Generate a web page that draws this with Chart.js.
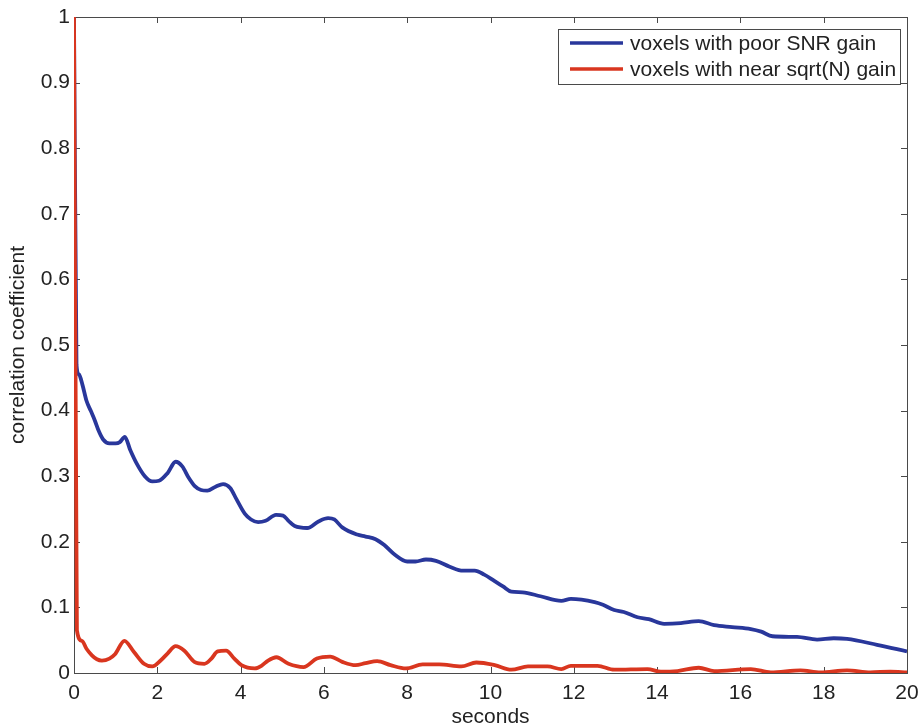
<!DOCTYPE html>
<html lang="en">
<head>
    <meta charset="UTF-8">
    <title>Correlation coefficient vs seconds</title>
    <script src="https://cdn.jsdelivr.net/npm/chart.js"></script>
    <style>
        body {
            margin: 0;
            padding: 0;
            background: #fff;
        }
        #wrap {
            width: 920px;
            height: 726px;
        }
    </style>
</head>
<body>
    <div id="wrap">
        <canvas id="corrChart" width="920" height="726"></canvas>
    </div>

    <script>
        // values
        const poorLabel = 'voxels with poor SNR gain';
        const poorT = [0, 0.06, 0.12, 0.2, 0.3, 0.4, 0.5, 0.6, 0.7, 0.85, 1.0, 1.1, 1.22, 1.35, 1.5, 1.7, 1.88, 2.04, 2.25, 2.44, 2.6, 2.75, 2.9, 3.05, 3.2, 3.4, 3.58, 3.75, 3.9, 4.1, 4.25, 4.42, 4.6, 4.85, 5.02, 5.15, 5.3, 5.6, 5.87, 6.1, 6.25, 6.44, 6.8, 7.0, 7.24, 7.45, 7.69, 8.0, 8.2, 8.45, 8.69, 9.02, 9.34, 9.62, 9.85, 10.1, 10.3, 10.5, 10.77, 11.2, 11.7, 11.93, 12.5, 12.7, 12.97, 13.2, 13.53, 13.8, 14.17, 14.57, 15.0, 15.37, 15.8, 16.25, 16.5, 16.77, 17.36, 17.84, 18.24, 18.56, 19.28, 20.0];
        const poorV = [1, 0.47, 0.455, 0.44, 0.415, 0.40, 0.385, 0.368, 0.356, 0.350, 0.350, 0.352, 0.360, 0.340, 0.320, 0.300, 0.292, 0.293, 0.305, 0.322, 0.315, 0.298, 0.285, 0.279, 0.278, 0.284, 0.288, 0.282, 0.265, 0.243, 0.234, 0.230, 0.232, 0.241, 0.240, 0.232, 0.224, 0.221, 0.231, 0.236, 0.234, 0.222, 0.211, 0.208, 0.204, 0.195, 0.181, 0.170, 0.170, 0.173, 0.171, 0.162, 0.156, 0.156, 0.150, 0.140, 0.132, 0.124, 0.123, 0.117, 0.110, 0.113, 0.108, 0.104, 0.096, 0.093, 0.085, 0.082, 0.075, 0.076, 0.079, 0.073, 0.070, 0.067, 0.063, 0.056, 0.055, 0.051, 0.053, 0.052, 0.043, 0.033];

        const nearLabel = 'voxels with near sqrt(N) gain';
        const nearT = [0, 0.07, 0.19, 0.3, 0.43, 0.55, 0.67, 0.85, 0.99, 1.21, 1.44, 1.68, 1.88, 2.08, 2.25, 2.44, 2.65, 2.89, 3.13, 3.3, 3.45, 3.65, 3.85, 4.02, 4.34, 4.5, 4.66, 4.86, 5.15, 5.51, 5.83, 6.15, 6.44, 6.76, 7.0, 7.28, 7.6, 7.97, 8.37, 8.77, 9.3, 9.66, 10.1, 10.5, 10.9, 11.37, 11.7, 11.93, 12.57, 12.97, 13.77, 14.09, 14.49, 15.0, 15.37, 16.25, 16.73, 17.44, 17.92, 18.56, 19.12, 19.6, 20.0];
        const nearV = [1, 0.065, 0.049, 0.037, 0.027, 0.021, 0.019, 0.022, 0.029, 0.049, 0.032, 0.014, 0.010, 0.019, 0.030, 0.041, 0.034, 0.017, 0.014, 0.022, 0.033, 0.034, 0.022, 0.012, 0.007, 0.011, 0.019, 0.024, 0.014, 0.009, 0.022, 0.025, 0.017, 0.012, 0.015, 0.018, 0.012, 0.007, 0.013, 0.013, 0.010, 0.016, 0.012, 0.005, 0.010, 0.010, 0.006, 0.011, 0.011, 0.005, 0.006, 0.002, 0.003, 0.008, 0.003, 0.006, 0.001, 0.004, 0.001, 0.004, 0.001, 0.002, 0.001];

        const xTicks = [0, 2, 4, 6, 8, 10, 12, 14, 16, 18, 20];
        const yTicks = [0, 0.1, 0.2, 0.3, 0.4, 0.5, 0.6, 0.7, 0.8, 0.9, 1];
        const yTickLabels = ['0', '0.1', '0.2', '0.3', '0.4', '0.5', '0.6', '0.7', '0.8', '0.9', '1'];

        const BLUE = '#29379b';
        const RED = '#d9361f';
        const AXIS = '#4a4a4a';
        const FONT = "'Liberation Sans', Arial, sans-serif";

        function toPoints(ts, vs) {
            return ts.map((t, i) => ({ x: t, y: vs[i] }));
        }

        // matlab style box with inward ticks + legend box in the corner
        const framePlugin = {
            id: 'frame',
            beforeDatasetsDraw(chart) {
                const { ctx, chartArea: a, scales } = chart;
                ctx.save();
                ctx.strokeStyle = AXIS;
                ctx.lineWidth = 1;
                ctx.strokeRect(a.left + 0.5, a.top + 0.5, a.right - a.left, a.bottom - a.top);
                ctx.beginPath();
                scales.x.ticks.forEach(t => {
                    const px = Math.round(scales.x.getPixelForValue(t.value)) + 0.5;
                    ctx.moveTo(px, a.bottom); ctx.lineTo(px, a.bottom - 6);
                    ctx.moveTo(px, a.top); ctx.lineTo(px, a.top + 6);
                });
                scales.y.ticks.forEach(t => {
                    const py = Math.round(scales.y.getPixelForValue(t.value)) + 0.5;
                    ctx.moveTo(a.left, py); ctx.lineTo(a.left + 6, py);
                    ctx.moveTo(a.right, py); ctx.lineTo(a.right - 6, py);
                });
                ctx.stroke();
                ctx.restore();
            },
            afterDraw(chart) {
                const ctx = chart.ctx;
                const sets = chart.data.datasets;
                const boxX = 558, boxY = 29, boxW = 342, rowH = 26;
                ctx.save();
                ctx.fillStyle = '#fff';
                ctx.fillRect(boxX, boxY, boxW, rowH * sets.length + 3);
                ctx.strokeStyle = AXIS;
                ctx.lineWidth = 1;
                ctx.strokeRect(boxX + 0.5, boxY + 0.5, boxW, rowH * sets.length + 3);
                ctx.font = '21px ' + FONT;
                ctx.textBaseline = 'middle';
                ctx.fillStyle = '#222';
                sets.forEach((ds, i) => {
                    const cy = boxY + 14 + i * rowH;
                    ctx.strokeStyle = ds.borderColor;
                    ctx.lineWidth = 3.5;
                    ctx.beginPath();
                    ctx.moveTo(570, cy);
                    ctx.lineTo(623, cy);
                    ctx.stroke();
                    ctx.fillText(ds.label, 630, cy + 1);
                });
                ctx.restore();
            }
        };

        const chart = new Chart(document.getElementById('corrChart'), {
            type: 'line',
            data: {
                datasets: [
                    {
                        label: poorLabel,
                        data: toPoints(poorT, poorV),
                        borderColor: BLUE,
                        borderWidth: 3.8,
                        pointRadius: 0,
                        cubicInterpolationMode: 'monotone',
                        order: 1
                    },
                    {
                        label: nearLabel,
                        data: toPoints(nearT, nearV),
                        borderColor: RED,
                        borderWidth: 3.8,
                        pointRadius: 0,
                        cubicInterpolationMode: 'monotone',
                        order: 0
                    }
                ]
            },
            options: {
                responsive: false,
                animation: false,
                layout: { padding: { top: 17, right: 13, left: 0, bottom: 0 } },
                plugins: {
                    legend: { display: false },
                    tooltip: { enabled: false }
                },
                scales: {
                    x: {
                        type: 'linear',
                        min: 0,
                        max: 20,
                        afterBuildTicks: s => { s.ticks = xTicks.map(v => ({ value: v })); },
                        afterFit: s => {
                            s.height = 53;
                            s.paddingLeft = 0;
                            s.paddingRight = 0;
                        },
                        grid: { display: false, drawTicks: false },
                        border: { display: false },
                        ticks: {
                            autoSkip: false,
                            maxRotation: 0,
                            padding: 8,
                            color: '#222',
                            font: { family: FONT, size: 21 },
                            callback: v => String(v)
                        },
                        title: {
                            display: true,
                            text: 'seconds',
                            color: '#222',
                            padding: { top: 0, bottom: -2 },
                            font: { family: FONT, size: 21, lineHeight: 1 }
                        }
                    },
                    y: {
                        min: 0,
                        max: 1,
                        afterBuildTicks: s => { s.ticks = yTicks.map(v => ({ value: v })); },
                        afterFit: s => {
                            s.width = 74;
                            s.paddingTop = 0;
                            s.paddingBottom = 0;
                        },
                        grid: { display: false, drawTicks: false },
                        border: { display: false },
                        ticks: {
                            padding: 4,
                            color: '#222',
                            font: { family: FONT, size: 21 },
                            callback: (v, i) => yTickLabels[i]
                        },
                        title: {
                            display: true,
                            text: 'correlation coefficient',
                            color: '#222',
                            padding: { top: 8, bottom: 0 },
                            font: { family: FONT, size: 21, lineHeight: 1 }
                        }
                    }
                }
            },
            plugins: [framePlugin]
        });
    </script>
</body>
</html>
